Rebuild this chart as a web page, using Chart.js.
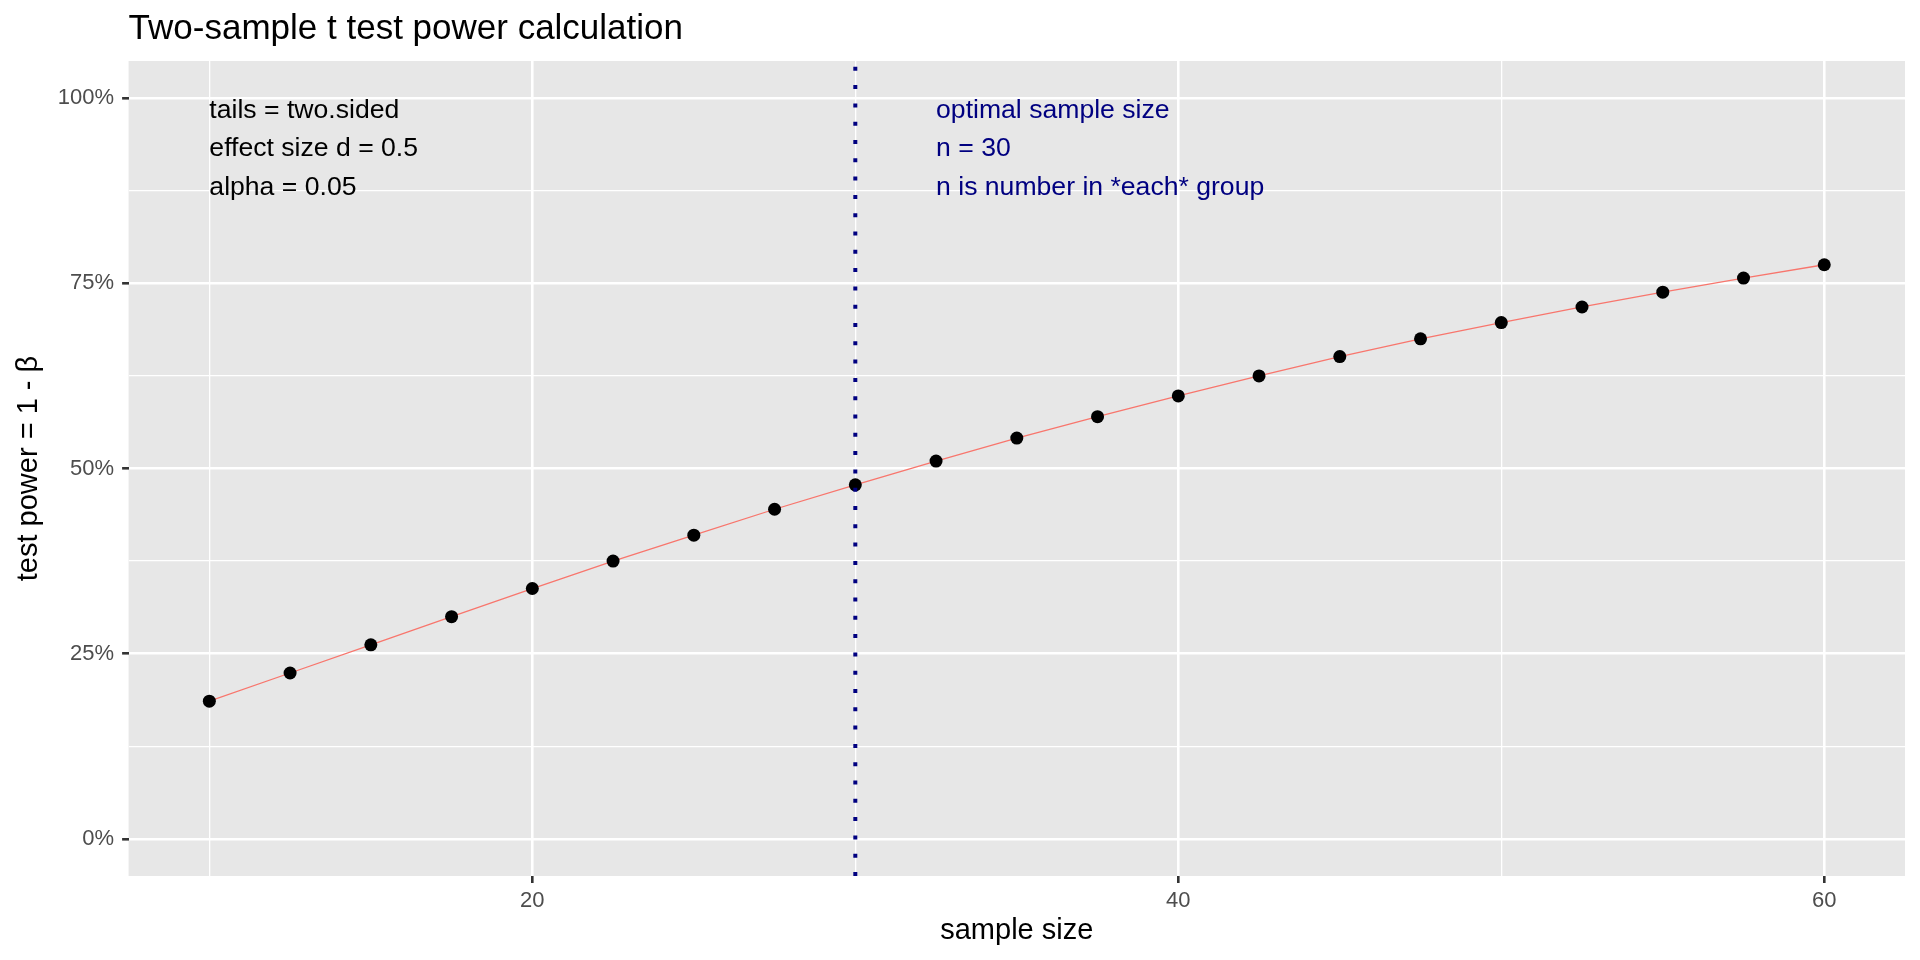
<!DOCTYPE html>
<html>
<head>
<meta charset="utf-8">
<script src="https://cdn.jsdelivr.net/npm/chart.js@4.4.1/dist/chart.umd.min.js"></script>
<style>
  html, body { margin: 0; padding: 0; background: #ffffff; }
  #c { display: block; }
</style>
</head>
<body>
<canvas id="c" width="1920" height="960"></canvas>
<script>
// ---- data ----
const sampleSizes = [10, 12.5, 15, 17.5, 20, 22.5, 25, 27.5, 30, 32.5, 35, 37.5, 40, 42.5, 45, 47.5, 50, 52.5, 55, 57.5, 60];
const powerValues = [0.186, 0.224, 0.262, 0.300, 0.338, 0.375, 0.410, 0.445, 0.478, 0.510, 0.541, 0.570, 0.598, 0.625, 0.651, 0.675, 0.697, 0.718, 0.738, 0.757, 0.775];
const optimalN = 30;

const xMajorTicks = [20, 40, 60];
const xMinorTicks = [10, 30, 50];
const yMajorTicks = [0, 0.25, 0.5, 0.75, 1];
const yMinorTicks = [0.125, 0.375, 0.625, 0.875];
const xRange = [7.5, 62.5];
const yRange = [-0.05, 1.05];

const titleText = "Two-sample t test power calculation";
const xTitle = "sample size";
const yTitle = "test power = 1 - \u03B2";

const leftNotes = ["tails = two.sided", "effect size d = 0.5", "alpha = 0.05"];
const rightNotes = ["optimal sample size", "n = 30", "n is number in *each* group"];
const noteY = [0.98, 0.929, 0.877];
const leftNoteX = 10;
const rightNoteX = 32.5;

// ---- build ----
const FONT = "'Liberation Sans', Arial, Helvetica, sans-serif";
const isMajor = (list, v) => list.some(m => Math.abs(m - v) < 1e-9);

const linePts = sampleSizes.map((n, i) => ({ x: n, y: powerValues[i] }));
const vlinePts = [{ x: optimalN, y: yRange[0] }, { x: optimalN, y: yRange[1] }];

const panelBg = {
  id: 'panelBg',
  beforeDraw(chart) {
    const { ctx, chartArea: a } = chart;
    ctx.save();
    ctx.fillStyle = '#ffffff';
    ctx.fillRect(0, 0, chart.width, chart.height);
    ctx.fillStyle = '#E7E7E7';
    ctx.fillRect(a.left, a.top, a.right - a.left, a.bottom - a.top);
    ctx.restore();
  }
};

const texts = {
  id: 'texts',
  afterDraw(chart) {
    const { ctx, chartArea: a, scales } = chart;
    const xs = scales.x, ys = scales.y;
    ctx.save();
    // title
    ctx.fillStyle = '#000000';
    ctx.font = `35px ${FONT}`;
    ctx.textAlign = 'left';
    ctx.textBaseline = 'alphabetic';
    ctx.fillText(titleText, a.left, 39);
    // x title
    ctx.font = `29px ${FONT}`;
    ctx.textAlign = 'center';
    ctx.fillText(xTitle, (a.left + a.right) / 2, 939);
    // y title
    ctx.save();
    ctx.translate(37, (a.top + a.bottom) / 2);
    ctx.rotate(-Math.PI / 2);
    ctx.textAlign = 'center';
    ctx.textBaseline = 'alphabetic';
    ctx.fillText(yTitle, 0, 0);
    ctx.restore();
    // annotations
    ctx.font = `26.6px ${FONT}`;
    ctx.textAlign = 'left';
    ctx.textBaseline = 'middle';
    ctx.fillStyle = '#000000';
    leftNotes.forEach((t, i) => {
      ctx.fillText(t, xs.getPixelForValue(leftNoteX), ys.getPixelForValue(noteY[i]) - 2);
    });
    ctx.fillStyle = '#000080';
    rightNotes.forEach((t, i) => {
      ctx.fillText(t, xs.getPixelForValue(rightNoteX), ys.getPixelForValue(noteY[i]) - 2);
    });
    ctx.restore();
  }
};

new Chart(document.getElementById('c'), {
  type: 'line',
  data: {
    datasets: [
      {
        label: 'vline',
        data: vlinePts,
        borderColor: '#000080',
        borderWidth: 4,
        borderDash: [4, 14.3],
        borderCapStyle: 'butt',
        pointRadius: 0,
        fill: false,
        order: 0
      },
      {
        label: 'points',
        data: linePts,
        showLine: false,
        pointRadius: 6.5,
        pointHoverRadius: 6.5,
        pointBackgroundColor: '#000000',
        pointBorderWidth: 0,
        order: 1
      },
      {
        label: 'line',
        data: linePts,
        borderColor: '#F8766D',
        borderWidth: 1.3,
        pointRadius: 0,
        tension: 0,
        fill: false,
        order: 2
      }
    ]
  },
  options: {
    responsive: false,
    animation: false,
    devicePixelRatio: 1,
    events: [],
    layout: { padding: { top: 61, right: 15, left: 0, bottom: 0 } },
    plugins: {
      legend: { display: false },
      title: { display: false },
      tooltip: { enabled: false }
    },
    scales: {
      x: {
        type: 'linear',
        min: xRange[0],
        max: xRange[1],
        afterBuildTicks(scale) {
          scale.ticks = [...xMinorTicks, ...xMajorTicks].sort((a, b) => a - b).map(v => ({ value: v }));
        },
        afterFit(scale) { scale.height = 84; },
        ticks: {
          autoSkip: false,
          maxRotation: 0,
          padding: 5,
          color: '#4D4D4D',
          font: { family: FONT, size: 22 },
          callback: (v) => isMajor(xMajorTicks, v) ? String(v) : ''
        },
        grid: {
          color: '#ffffff',
          lineWidth: (c) => isMajor(xMajorTicks, c.tick.value) ? 2.6 : 1.3,
          drawTicks: true,
          tickLength: 7,
          tickWidth: 2.6,
          tickColor: (c) => isMajor(xMajorTicks, c.tick.value) ? '#333333' : 'rgba(0,0,0,0)'
        },
        border: { display: false }
      },
      y: {
        type: 'linear',
        min: yRange[0],
        max: yRange[1],
        afterBuildTicks(scale) {
          scale.ticks = [...yMinorTicks, ...yMajorTicks].sort((a, b) => a - b).map(v => ({ value: v }));
        },
        afterFit(scale) { scale.width = 128.6; },
        ticks: {
          autoSkip: false,
          padding: 8,
          color: '#4D4D4D',
          font: { family: FONT, size: 22 },
          callback: (v) => isMajor(yMajorTicks, v) ? Math.round(v * 100) + '%' : ''
        },
        grid: {
          color: '#ffffff',
          lineWidth: (c) => isMajor(yMajorTicks, c.tick.value) ? 2.6 : 1.3,
          drawTicks: true,
          tickLength: 6.5,
          tickWidth: 2.6,
          tickColor: (c) => isMajor(yMajorTicks, c.tick.value) ? '#333333' : 'rgba(0,0,0,0)'
        },
        border: { display: false }
      }
    }
  },
  plugins: [panelBg, texts]
});
</script>
</body>
</html>
